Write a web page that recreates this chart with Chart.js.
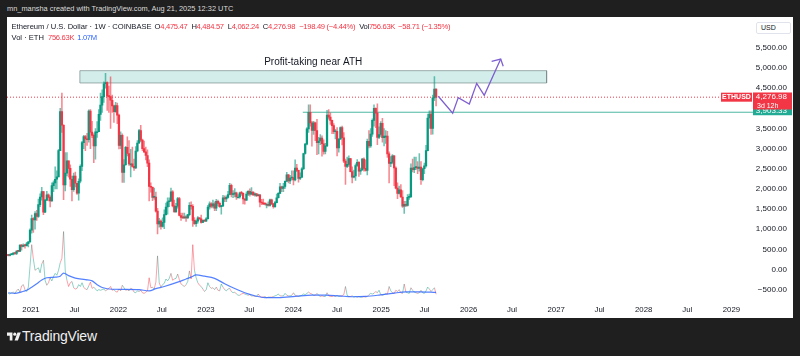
<!DOCTYPE html>
<html>
<head>
<meta charset="utf-8">
<script src="https://cdn.jsdelivr.net/npm/chart.js@4.4.1/dist/chart.umd.min.js"></script>
<style>
  html, body { margin:0; padding:0; }
  body { width:800px; height:356px; background:#1f1f1f; position:relative; overflow:hidden; font-family:"Liberation Sans", Arial, sans-serif; }
  #credit { position:absolute; left:7px; top:4px; font-size:7.4px; line-height:10px; color:#dcdcdc; white-space:nowrap; }
  #pane { position:absolute; left:7px; top:17px; width:786px; height:301px; background:#ffffff; }
  #pane canvas { position:absolute; left:0; top:0; }
  .leg { position:absolute; left:4.5px; font-size:7.6px; line-height:10px; color:#131722; white-space:nowrap; }
  .vals { letter-spacing:-0.3px; }
  .r { color:#f23645; }
  .b { color:#2962ff; }
  .g5 { margin-left:4px; }
  .g3 { margin-left:3px; }
  #usd { position:absolute; left:749px; top:5px; width:33px; height:10px; border:1px solid #e0e3eb; border-radius:2px; font-size:7px; line-height:10px; color:#131722; text-indent:4px; background:#fff; }
  #brand { position:absolute; left:7px; top:329px; height:15px; white-space:nowrap; color:#f0f0f0; font-size:14px; line-height:15px; }
  #brand svg { position:absolute; left:0; top:2px; }
  #brand span { position:absolute; left:15px; top:0; letter-spacing:-0.2px; }
</style>
</head>
<body>
<div id="credit">mn_mansha created with TradingView.com, Aug 21, 2025 12:32 UTC</div>
<div id="pane">
  <canvas id="c" width="786" height="301"></canvas>
  <div class="leg" style="top:5px">Ethereum / U.S. Dollar · 1W · COINBASE<span class="vals"><span class="g3">O<span class="r">4,475.47</span></span><span class="g5">H<span class="r">4,484.57</span></span><span class="g5">L<span class="r">4,062.24</span></span><span class="g5">C<span class="r">4,276.98</span></span><span class="g5 r">−198.49 (−4.44%)</span><span class="g5">Vol<span class="r">756.63K</span></span><span class="g3 r">−58.71 (−1.35%)</span></span></div>
  <div class="leg" style="top:16px">Vol · ETH<span class="vals"><span class="g5 r">756.63K</span><span class="g3 b">1.07M</span></span></div>
  <div id="usd">USD</div>
</div>
<div id="brand">
  <svg width="14" height="11" viewBox="0 0 36 28"><path d="M14 24H7V12H0V4h14z" fill="#f0f0f0"/><circle cx="20" cy="8" r="4" fill="#f0f0f0"/><path d="M28 24h-8.5L27 4h8.5z" fill="#f0f0f0"/></svg>
  <span>TradingView</span>
</div>
<script>
// ---------- weekly candles, COINBASE ETHUSD, week index 0 = 2020-09-28 ----------
const seriesStart = '2020-09-28';
const opens = [
 355,346,370,377,406,396,454,448,605,575,600,590,638,
 685,975,1265,1230,1390,1315,1610,1800,1935,1420,1720,1850,1790,
 1700,2080,2150,2240,2300,2950,3920,3580,2100,2390,2700,2510,2240,
 1980,2320,2140,1895,2190,2560,3150,3300,3240,3220,3930,3410,3330,
 3070,3420,3420,3850,4080,4290,4610,4640,4300,4290,4200,4060,3920,
 4070,3830,3080,3330,2410,2600,3030,2880,2620,2620,2560,2520,2940,
 3140,3450,3210,3000,2920,2830,2640,2060,2040,1790,1800,1450,1130,
 1200,1070,1170,1360,1550,1680,1700,1930,1580,1430,1570,1760,1340,
 1290,1280,1290,1280,1360,1590,1570,1220,1140,1200,1280,1260,1170,
 1220,1200,1260,1550,1630,1570,1630,1520,1690,1640,1560,1580,1780,
 1750,1790,1860,2090,1860,1870,1900,1800,1800,1900,1890,1750,1720,
 1870,1940,1870,1920,1850,1880,1830,1850,1670,1650,1630,1620,1620,
 1590,1730,1630,1560,1660,1780,1890,2050,2010,2060,2190,2350,2200,
 2270,2280,2220,2520,2460,2260,2290,2500,2880,3110,3490,3900,3640,
 3450,3640,3450,3150,3190,3260,3120,2930,3070,3830,3780,3700,3570,
 3420,3430,3020,3240,3520,3270,2690,2560,2610,2750,2430,2290,2320,
 2580,2660,2440,2470,2740,2510,2460,3180,3070,3360,3700,4000,3880,
 3280,3350,3630,3270,3310,3310,2870,2630,2660,2820,2520,2020,1890,
 1980,1800,1570,1620,1590,1790,1810,2520,2480,2530,2540,2510,2540,
 2230,2500,2570,2950,3760,3860,3500,4260,4475.47
];
const highs = [
 376,379,388,420,415,468,475,610,622,636,600,676,690,
 1010,1350,1290,1440,1470,1750,1880,2040,1940,1740,1940,1880,1830,
 2150,2200,2550,2450,2980,4000,4380,3600,2900,2900,2700,2600,2320,
 2390,2420,2140,2250,2600,3180,3330,3330,3380,3960,3970,3680,3370,
 3500,3670,3970,4380,4460,4660,4870,4660,4550,4780,4330,4080,4150,
 4130,3860,3420,3370,2730,3060,3290,3200,2980,3040,2740,3050,3200,
 3480,3580,3240,3190,3040,2970,2720,2150,2050,2020,1920,1520,1270,
 1230,1280,1480,1650,1780,1780,2020,1960,1720,1640,1790,1790,1400,
 1400,1400,1340,1370,1660,1680,1610,1290,1230,1310,1290,1350,1230,
 1230,1290,1590,1680,1660,1720,1680,1740,1720,1670,1590,1840,1830,
 1830,1940,2140,2120,1960,2010,1920,1860,1920,1940,1900,1760,1930,
 1960,2000,2030,1930,1900,1890,1870,1860,1740,1750,1660,1650,1680,
 1750,1750,1640,1690,1870,1910,2140,2070,2140,2200,2410,2360,2340,
 2450,2450,2720,2610,2470,2400,2530,2890,3130,3520,4090,4090,3680,
 3680,3660,3730,3280,3350,3320,3220,3130,3950,3970,3890,3710,3620,
 3480,3520,3250,3540,3560,3400,2740,2790,2820,2760,2550,2470,2620,
 2730,2680,2520,2760,2770,2720,3240,3450,3500,3740,4090,4010,4110,
 3540,3670,3750,3500,3450,3430,2920,2800,2850,2830,2550,2150,2070,
 2110,1960,1690,1690,1860,1870,2620,2740,2790,2790,2680,2880,2680,
 2520,2640,3080,3860,3940,3940,4330,4790,4484.57
];
const lows = [
 334,335,361,364,372,370,436,445,480,560,530,580,560,
 680,900,920,1000,1220,1290,1560,1720,1360,1410,1710,1700,1550,
 1690,1930,2000,2000,2300,2950,3400,1730,1950,2320,2290,2060,1700,
 1940,2050,1860,1720,2150,2450,3000,2950,3080,3160,3000,3270,2650,
 2740,3280,3420,3700,3900,4150,4500,3950,3900,3500,3900,3650,3900,
 3620,2990,3000,2160,2160,2580,2820,2580,2300,2540,2460,2500,2920,
 3120,3170,2950,2900,2720,2550,1700,1920,1710,1740,1420,880,1050,
 1000,1050,1010,1350,1370,1560,1680,1550,1420,1420,1520,1330,1220,
 1270,1270,1190,1270,1330,1500,1070,1120,1070,1150,1230,1150,1160,
 1190,1190,1250,1500,1530,1530,1460,1460,1580,1540,1370,1560,1680,
 1680,1770,1850,1800,1780,1800,1740,1780,1770,1840,1630,1620,1710,
 1830,1820,1850,1840,1820,1810,1820,1550,1610,1610,1600,1530,1570,
 1570,1610,1520,1540,1650,1770,1880,1930,1930,2010,2180,2150,2130,
 2220,2100,2200,2430,2170,2230,2280,2480,2860,3090,3400,3560,3060,
 3350,3200,2850,2870,3100,2810,2860,2870,3050,3730,3600,3370,3370,
 3240,2820,2910,3220,3090,2650,2110,2530,2560,2420,2150,2270,2210,
 2560,2310,2360,2460,2440,2440,2350,3020,3030,3300,3560,3520,3100,
 3250,3300,3160,3070,3130,2780,2150,2550,2620,2080,2000,1760,1870,
 1790,1540,1390,1560,1570,1740,1780,2420,2400,2480,2380,2440,2110,
 2200,2380,2540,2940,3500,3350,3360,4190,4062.24
];
const closes = [
 346,370,377,406,396,454,448,605,575,600,590,638,685,
 975,1265,1230,1390,1315,1610,1800,1935,1420,1720,1850,1790,1700,
 2080,2150,2240,2300,2950,3920,3580,2100,2390,2700,2510,2240,1980,
 2320,2140,1895,2190,2560,3150,3300,3240,3220,3930,3410,3330,3070,
 3420,3420,3850,4080,4290,4610,4640,4300,4290,4200,4060,3920,4070,
 3830,3080,3330,2410,2600,3030,2880,2620,2620,2560,2520,2940,3140,
 3450,3210,3000,2920,2830,2640,2060,2040,1790,1800,1450,1130,1200,
 1070,1170,1360,1550,1680,1700,1930,1580,1430,1570,1760,1340,1290,
 1280,1290,1280,1360,1590,1570,1220,1140,1200,1280,1260,1170,1220,
 1200,1260,1550,1630,1570,1630,1520,1690,1640,1560,1580,1780,1750,
 1790,1860,2090,1860,1870,1900,1800,1800,1900,1890,1750,1720,1870,
 1940,1870,1920,1850,1880,1830,1850,1670,1650,1630,1620,1620,1590,
 1730,1630,1560,1660,1780,1890,2050,2010,2060,2190,2350,2200,2270,
 2280,2220,2520,2460,2260,2290,2500,2880,3110,3490,3900,3640,3450,
 3640,3450,3150,3190,3260,3120,2930,3070,3830,3780,3700,3570,3420,
 3430,3020,3240,3520,3270,2690,2560,2610,2750,2430,2290,2320,2580,
 2660,2440,2470,2740,2510,2460,3180,3070,3360,3700,4000,3880,3280,
 3350,3630,3270,3310,3310,2870,2630,2660,2820,2520,2020,1890,1980,
 1800,1570,1620,1590,1790,1810,2520,2480,2530,2540,2510,2540,2230,
 2500,2570,2950,3760,3860,3500,4260,4475.47,4276.98
];
// weekly volume, millions of ETH
const volume = [
 0.9,0.8,1.0,1.1,0.9,1.3,1.6,1.1,2.1,2.3,1.5,1.2,1.9,
 5.2,8.7,6.4,4.6,4.8,5.0,4.2,5.6,6.2,3.0,2.2,2.6,3.4,
 2.9,3.6,4.1,3.8,4.6,5.8,6.5,10.8,4.5,3.0,2.0,2.6,2.8,
 1.8,1.6,1.7,2.3,2.0,2.6,1.9,1.6,1.5,2.1,2.7,1.7,1.9,
 1.6,1.3,1.5,1.4,1.5,1.6,1.3,1.5,1.7,2.0,1.4,1.5,1.2,
 1.1,1.6,1.3,2.2,1.8,1.4,1.5,1.3,1.7,1.6,1.1,1.0,1.3,
 1.2,1.4,1.0,0.9,1.1,1.3,3.4,1.8,1.9,1.6,2.7,6.9,2.6,
 1.9,2.3,2.5,3.2,2.9,3.3,4.1,3.0,3.2,3.3,4.0,3.1,2.4,
 2.2,2.0,2.3,2.8,4.5,3.2,8.7,4.6,3.4,2.6,2.2,2.0,1.6,
 1.2,1.5,2.6,2.0,1.7,1.8,1.5,1.9,1.4,1.3,2.4,1.9,1.5,
 1.3,1.6,1.7,1.2,1.0,1.1,0.8,0.6,0.6,0.8,0.9,0.8,0.7,
 0.6,0.7,0.5,0.5,0.4,0.4,0.8,0.4,0.3,0.3,0.4,0.2,0.3,
 0.3,0.3,0.4,0.5,0.6,0.8,0.5,0.5,0.5,0.9,0.6,0.5,0.5,
 0.6,1.0,0.6,0.5,0.4,0.5,0.6,0.8,0.7,0.9,1.1,0.9,0.8,
 0.6,0.6,0.9,0.6,0.4,0.5,0.4,0.4,1.0,0.5,0.4,0.4,0.5,
 0.4,0.6,0.4,0.5,0.5,0.7,2.0,0.6,0.4,0.4,0.5,0.3,0.4,
 0.3,0.4,0.3,0.3,0.4,0.3,0.4,0.7,0.9,0.8,0.9,1.2,1.0,
 1.4,0.7,0.6,0.7,0.9,0.8,2.0,1.3,1.0,0.9,1.4,1.2,1.5,
 1.0,0.9,2.4,1.1,1.0,0.9,1.8,1.4,1.1,1.0,0.9,1.0,1.4,
 1.0,0.9,1.3,1.9,1.6,1.2,1.5,1.8,0.757
];
// volume moving average (read at sampled weeks)
const maWeeks  = [0,4,8,11,14,17,20,23,28,31,33,36,40,46,50,53,56,62,70,78,84,88,93,101,106,109,112,117,123,129,135,141,147,153,161,171,181,189,197,205,213,221,229,237,245,255];
const maValues = [1.0,0.9,1.15,1.4,1.9,2.45,3.05,3.4,3.5,3.65,4.15,3.75,3.35,3.1,2.9,2.3,1.85,1.56,1.55,1.5,1.3,1.65,2.0,2.7,3.2,3.5,3.85,3.65,3.3,2.45,1.67,1.0,0.52,0.22,0.22,0.42,0.62,0.62,0.5,0.36,0.42,0.63,0.9,1.15,1.15,1.07];

// axis labels
const xTickLabels = ['2021','Jul','2022','Jul','2023','Jul','2024','Jul','2025','Jul','2026','Jul','2027','Jul','2028','Jul','2029'];
const xTickDates  = ['2021-01-01','2021-07-01','2022-01-01','2022-07-01','2023-01-01','2023-07-01','2024-01-01','2024-07-01','2025-01-01','2025-07-01','2026-01-01','2026-07-01','2027-01-01','2027-07-01','2028-01-01','2028-07-01','2029-01-01'];
const priceTicks  = [-500,0,500,1000,1500,2000,2500,3000,3500,4000,4500,5000,5500];
const viewDates   = ['2020-09-23','2029-04-01'];
const priceRange  = [-758, 6074];
const volumeRange = [-0.16, 43.9];

// drawings
const zoneCaption = 'Profit-taking near ATH';
const zoneDates   = ['2021-07-24','2026-11-22'];
const zonePrices  = [4630, 4935];
const levelPrice  = 3903.33;
const levelStart  = '2024-02-09';
const lastClose   = 4276.98;
const countdown   = '3d 12h';
const symbolName  = 'ETHUSD';
const pathWeeks   = [256.3, 264.9, 268.2, 274.8, 279.2, 283.7, 293.5];
const pathPrices  = [4300, 3881, 4267, 4106, 4620, 4323, 5224];
const headWeeks   = [288.1, 293.5, 295.0];
const headPrices  = [5168, 5224, 5047];

// ---------- build ----------
const W0 = Date.parse(seriesStart);
const weekOf = d => (Date.parse(d) - W0) / (7 * 86400000);
const xMin = weekOf(viewDates[0]), xMax = weekOf(viewDates[1]);
const idx = closes.map((_, i) => i);
const up = i => closes[i] >= opens[i];
const UP = '#089981', DN = '#f23645';
const fmt = v => (v < 0 ? '\u2212' : '') + Math.abs(v).toLocaleString('en-US', {minimumFractionDigits:2, maximumFractionDigits:2});
const FONT = '"Liberation Sans", Arial, sans-serif';
Chart.defaults.font.family = FONT;

const overlay = {
  id: 'overlay',
  afterDatasetsDraw(chart) {
    const {ctx, scales:{x, y}} = chart;
    const cx = (x.getPixelForValue(weekOf(zoneDates[0])) + x.getPixelForValue(weekOf(zoneDates[1]))) / 2;
    const ty = y.getPixelForValue(zonePrices[1]) - 8;
    ctx.save();
    ctx.font = '10px ' + FONT;
    ctx.fillStyle = '#131722';
    ctx.textAlign = 'center';
    ctx.textBaseline = 'middle';
    ctx.fillText(zoneCaption, cx, ty);
    ctx.restore();
  },
  afterDraw(chart) {
    const {ctx, chartArea, scales:{y}} = chart;
    const L = chartArea.right, bw = chart.width - L - 1;
    ctx.save();
    ctx.textBaseline = 'middle';
    // level label
    const ly = y.getPixelForValue(levelPrice);
    ctx.fillStyle = '#22ab94';
    ctx.fillRect(L, ly - 6.5, bw, 9.5);
    ctx.fillStyle = '#ffffff';
    ctx.font = '8px ' + FONT;
    ctx.textAlign = 'right';
    ctx.fillText(fmt(levelPrice), L + 34, ly - 1.8);
    // last price label
    const py = y.getPixelForValue(lastClose);
    ctx.fillStyle = DN;
    ctx.fillRect(L, py - 4.7, bw, 17);
    ctx.fillStyle = '#ffffff';
    ctx.font = '8px ' + FONT;
    ctx.textAlign = 'right';
    ctx.fillText(fmt(lastClose), L + 34, py);
    ctx.font = '7px ' + FONT;
    ctx.textAlign = 'left';
    ctx.fillText(countdown, L + 4, py + 8.8);
    // symbol tag
    ctx.fillStyle = DN;
    ctx.fillRect(L - 32, py - 4.5, 31, 9);
    ctx.fillStyle = '#ffffff';
    ctx.font = 'bold 7px ' + FONT;
    ctx.textAlign = 'center';
    ctx.fillText(symbolName, L - 16.5, py + 0.3);
    ctx.restore();
  }
};

new Chart(document.getElementById('c'), {
  type: 'bar',
  data: {
    datasets: [
      { type:'line', data:[
          {x:weekOf(zoneDates[0]), y:zonePrices[0]}, {x:weekOf(zoneDates[0]), y:zonePrices[1]},
          {x:weekOf(zoneDates[1]), y:zonePrices[1]}, {x:weekOf(zoneDates[1]), y:zonePrices[0]},
          {x:weekOf(zoneDates[0]), y:zonePrices[0]}],
        fill:'shape', backgroundColor:'rgba(34,171,148,0.2)', borderColor:'rgba(120,140,138,0.7)',
        borderWidth:1, pointRadius:0, tension:0, order:10, yAxisID:'y' },
      { type:'line', data:volume.map((v, i) => ({x:i, y:v})), yAxisID:'v',
        borderWidth:1, pointRadius:0, tension:0, borderColor:'rgba(8,153,129,0.45)',
        segment:{ borderColor: c => up(c.p1DataIndex) ? 'rgba(8,153,129,0.45)' : 'rgba(242,54,69,0.45)' },
        order:8 },
      { type:'line', data:maWeeks.map((w, k) => ({x:w, y:maValues[k]})), yAxisID:'v',
        borderColor:'rgba(41,98,255,0.8)', borderWidth:1.2, pointRadius:0, cubicInterpolationMode:'monotone', order:7 },
      { type:'line', data:[{x:xMin, y:lastClose}, {x:xMax, y:lastClose}], yAxisID:'y',
        borderColor:DN, borderWidth:1, borderDash:[1,2], pointRadius:0, order:6 },
      { type:'line', data:[{x:weekOf(levelStart), y:levelPrice}, {x:xMax, y:levelPrice}], yAxisID:'y',
        borderColor:'#4cb7a2', borderWidth:1, pointRadius:0, order:5 },
      { type:'bar', data:idx.map(i => ({x:i, y:[lows[i], highs[i]]})), yAxisID:'y',
        backgroundColor:idx.map(i => up(i) ? 'rgba(8,153,129,0.6)' : 'rgba(242,54,69,0.6)'),
        barThickness:0.9, grouped:false, order:2 },
      { type:'bar', data:idx.map(i => ({x:i, y:[opens[i], closes[i]]})), yAxisID:'y',
        backgroundColor:idx.map(i => up(i) ? UP : DN),
        barThickness:1.6, minBarLength:1, grouped:false, order:1 },
      { type:'line', data:pathWeeks.map((w, k) => ({x:w, y:pathPrices[k]})), yAxisID:'y',
        borderColor:'#7e5fd0', borderWidth:1.3, pointRadius:0, tension:0, order:0 },
      { type:'line', data:headWeeks.map((w, k) => ({x:w, y:headPrices[k]})), yAxisID:'y',
        borderColor:'#7e5fd0', borderWidth:1.3, pointRadius:0, tension:0, order:0 }
    ]
  },
  options: {
    responsive:false, animation:false, devicePixelRatio:1,
    layout:{ padding:{ top:1, left:0, right:6, bottom:0 } },
    plugins:{ legend:{ display:false }, tooltip:{ enabled:false } },
    scales:{
      x:{ type:'linear', position:'bottom', min:xMin, max:xMax, offset:false,
          grid:{ display:false, drawTicks:false, offset:false }, border:{ display:false },
          afterBuildTicks: s => { s.ticks = xTickDates.map(d => ({ value: weekOf(d) })); },
          afterFit: s => { s.height = 18; },
          ticks:{ autoSkip:false, maxRotation:0, padding:5, color:'#131722', font:{ size:7.8 },
                  callback:(v, i) => xTickLabels[i] } },
      y:{ type:'linear', position:'right', min:priceRange[0], max:priceRange[1],
          grid:{ display:false, drawTicks:false }, border:{ display:false },
          afterBuildTicks: s => { s.ticks = priceTicks.map(v => ({ value: v })); },
          afterFit: s => { s.width = 34; },
          ticks:{ crossAlign:'far', padding:3, color:'#131722', font:{ size:8 }, callback: v => fmt(v) } },
      v:{ type:'linear', display:false, min:volumeRange[0], max:volumeRange[1] }
    }
  },
  plugins:[overlay]
});
</script>
</body>
</html>
